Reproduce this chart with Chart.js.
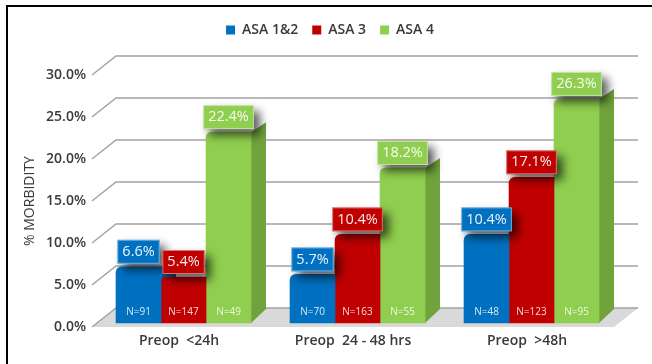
<!DOCTYPE html>
<html lang="en">
<head>
  <meta charset="UTF-8">
  <title>Morbidity by ASA class and preop timing</title>
  <script src="https://cdn.jsdelivr.net/npm/chart.js"></script>
  <style>
    html, body { margin: 0; padding: 0; background: #fff; overflow: hidden; }
    #wrap { position: relative; width: 652px; height: 364px; }
    #frame { position: absolute; left: 6px; top: 5px; right: 0; bottom: 0; border-top: 2px solid #000; border-left: 2px solid #000; }
    canvas { position: absolute; left: 0; top: 0; }
  </style>
</head>
<body>
  <div id="wrap">
    <canvas id="morbidityChart" width="652" height="364"></canvas>
    <div id="frame"></div>
  </div>
  <script>
    const categories = ['Preop  <24h', 'Preop  24 - 48 hrs', 'Preop  >48h'];
    const yTicks = [0, 5, 10, 15, 20, 25, 30];
    const asa12 = [6.6, 5.7, 10.4];
    const asa3 = [5.4, 10.4, 17.1];
    const asa4 = [22.4, 18.2, 26.3];
    const nAsa12 = [91, 70, 48];
    const nAsa3 = [147, 163, 123];
    const nAsa4 = [49, 55, 95];

    const FONT = '"Open Sans", sans-serif';
    const TEXT = '#3a3a3a';
    const GRID = '#a3a3a3';
    // depth of the back wall and of the bar sides, in px
    const WALL_DX = 24, WALL_DY = 19;
    const SIDE_DX = 15, SIDE_DY = 10, SIDE_BASE_DY = 14;

    const counts = [nAsa12, nAsa3, nAsa4];

    // hand the legend extra height so the plot starts lower down
    const legendGap = {
      id: 'legendGap',
      beforeInit(chart) {
        const fit = chart.legend.fit;
        chart.legend.fit = function () {
          fit.call(this);
          this.height = 66;
        };
      }
    };

    const wall = {
      id: 'wall',
      beforeDatasetsDraw(chart) {
        const { ctx, chartArea, scales } = chart;
        const { left, right } = chartArea;
        const zero = scales.y.getPixelForValue(0);
        ctx.save();
        ctx.fillStyle = '#d9d9d9';
        ctx.beginPath();
        ctx.moveTo(left, zero);
        ctx.lineTo(left + WALL_DX, zero - WALL_DY);
        ctx.lineTo(right + WALL_DX, zero - WALL_DY);
        ctx.lineTo(right, zero);
        ctx.closePath();
        ctx.fill();

        ctx.strokeStyle = GRID;
        ctx.lineWidth = 1.5;
        yTicks.forEach(t => {
          const y = scales.y.getPixelForValue(t);
          ctx.beginPath();
          ctx.moveTo(left, y);
          ctx.lineTo(left + WALL_DX, y - WALL_DY);
          ctx.lineTo(right + WALL_DX, y - WALL_DY);
          ctx.stroke();
        });

        // side faces go first, the neighbouring bar covers what it should
        chart.data.datasets.forEach((ds, d) => {
          ctx.fillStyle = ds.sideColor;
          chart.getDatasetMeta(d).data.forEach(bar => {
            const x = bar.x + bar.width / 2;
            ctx.beginPath();
            ctx.moveTo(x, bar.y);
            ctx.lineTo(x + SIDE_DX, bar.y - SIDE_DY);
            ctx.lineTo(x + SIDE_DX, bar.base - SIDE_BASE_DY);
            ctx.lineTo(x, bar.base);
            ctx.closePath();
            ctx.fill();
          });
        });
        ctx.restore();
      }
    };

    const barLabels = {
      id: 'barLabels',
      afterDatasetsDraw(chart) {
        const { ctx } = chart;
        ctx.save();
        ctx.textAlign = 'center';
        ctx.textBaseline = 'middle';

        // sample sizes at the foot of each bar
        ctx.font = '10px ' + FONT;
        ctx.fillStyle = 'rgba(255,255,255,0.85)';
        chart.data.datasets.forEach((ds, d) => {
          chart.getDatasetMeta(d).data.forEach((bar, i) => {
            ctx.fillText('N=' + counts[d][i], bar.x, bar.base - 11);
          });
        });

        // value tags, drawn in series order so later ones overlap earlier ones
        ctx.font = '14.5px ' + FONT;
        chart.data.datasets.forEach((ds, d) => {
          chart.getDatasetMeta(d).data.forEach((bar, i) => {
            const text = ds.data[i].y.toFixed(1) + '%';
            const w = ctx.measureText(text).width + 10;
            const h = 24;
            const x = bar.x - w / 2;
            const y = bar.y - 3 - h;
            ctx.save();
            ctx.shadowColor = 'rgba(0,0,0,0.65)';
            ctx.shadowBlur = 10;
            ctx.shadowOffsetX = 6;
            ctx.shadowOffsetY = 6;
            ctx.fillStyle = ds.backgroundColor;
            ctx.fillRect(x, y, w, h);
            ctx.restore();
            ctx.strokeStyle = 'rgba(255,255,255,0.45)';
            ctx.lineWidth = 1;
            ctx.strokeRect(x + 0.5, y + 0.5, w - 1, h - 1);
            ctx.fillStyle = 'rgba(255,255,255,0.92)';
            ctx.fillText(text, bar.x, y + h / 2);
          });
        });
        ctx.restore();
      }
    };

    function series(label, values, color, sideColor) {
      return {
        label: label,
        data: values.map((v, i) => ({ x: i, y: v })),
        backgroundColor: color,
        sideColor: sideColor,
        xAxisID: 'xBars',
        yAxisID: 'yBars',
        barThickness: 45,
        borderRadius: { topLeft: 6 },
        borderSkipped: false
      };
    }

    new Chart(document.getElementById('morbidityChart').getContext('2d'), {
      type: 'bar',
      data: {
        labels: categories,
        datasets: [
          series('ASA 1&2', asa12, '#0070c0', '#005a9a'),
          series('ASA 3', asa3, '#c00000', '#8f0000'),
          series('ASA 4', asa4, '#8fce4e', '#70a33c')
        ]
      },
      options: {
        responsive: false,
        animation: false,
        layout: { padding: { top: 9, left: 8, right: 0, bottom: 0 } },
        plugins: {
          tooltip: { enabled: false },
          legend: {
            position: 'top',
            labels: {
              boxWidth: 9,
              boxHeight: 9,
              padding: 14,
              color: TEXT,
              font: { family: FONT, size: 14, weight: '600' }
            }
          }
        },
        scales: {
          x: {
            type: 'category',
            position: 'bottom',
            grid: { display: false, drawTicks: false },
            border: { display: false },
            ticks: { color: TEXT, padding: 6, maxRotation: 0, font: { family: FONT, size: 14, weight: '600' } },
            afterFit(scale) { scale.height = 37; }
          },
          // the bars sit a little forward of the axis plane
          xBars: { type: 'linear', display: false, offset: false, min: -0.526, max: 2.474 },
          y: {
            type: 'linear',
            position: 'left',
            min: 0,
            max: 30,
            afterBuildTicks(scale) { scale.ticks = yTicks.map(v => ({ value: v })); },
            grid: { display: false, drawTicks: false },
            border: { display: false },
            ticks: {
              color: TEXT,
              padding: 6,
              font: { family: FONT, size: 14, weight: '600' },
              callback: v => v.toFixed(1) + '%'
            },
            title: {
              display: true,
              text: '% MORBIDITY',
              color: TEXT,
              padding: { top: 14, bottom: 0 },
              font: { family: FONT, size: 14 }
            },
            afterFit(scale) { scale.width = 84; }
          },
          // right-hand axis: no marks, it only reserves the space the depth needs
          yBars: {
            type: 'linear',
            position: 'right',
            min: -0.47,
            max: 29.11,
            grid: { display: false, drawTicks: false },
            border: { display: false },
            ticks: { display: false },
            afterFit(scale) { scale.width = 38; }
          }
        }
      },
      plugins: [legendGap, wall, barLabels]
    });
  </script>
</body>
</html>
